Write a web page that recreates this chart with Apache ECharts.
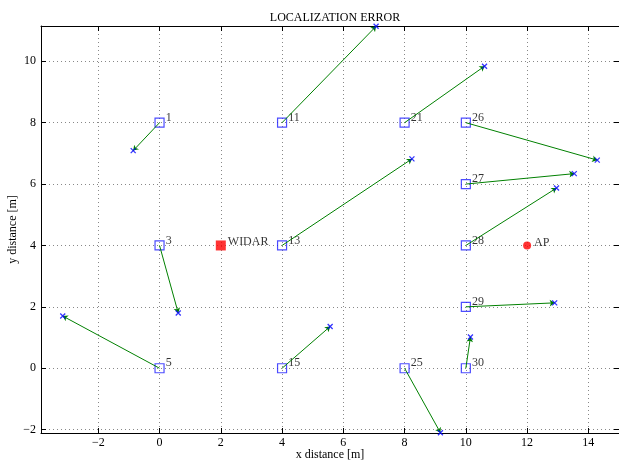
<!DOCTYPE html>
<html>
<head>
<meta charset="utf-8">
<script src="https://cdn.jsdelivr.net/npm/echarts@6/dist/echarts.min.js"></script>
<style>html,body{margin:0;padding:0;background:#fff;}#c{width:619px;height:464px;}</style>
</head>
<body>
<div id="c"></div>
<script>
const ids   = [1, 3, 5, 11, 13, 15, 21, 25, 26, 27, 28, 29, 30];
const trueX = [0, 0, 0, 4, 4, 4, 8, 8, 10, 10, 10, 10, 10];
const trueY = [8, 4, 0, 8, 4, 0, 8, 0, 8, 6, 4, 2, 0];
const estX  = [-0.86, 0.61, -3.16, 7.07, 8.24, 5.57, 10.61, 9.17, 14.29, 13.54, 12.96, 12.90, 10.15];
const estY  = [7.09, 1.80, 1.70, 11.14, 6.82, 1.36, 9.84, -2.10, 6.78, 6.34, 5.87, 2.13, 1.02];
const widar = [2, 4];
const ap = [12, 4];
const xTicks = [-2, 0, 2, 4, 6, 8, 10, 12, 14];
const yTicks = [-2, 0, 2, 4, 6, 8, 10];
const xRange = [-3.87, 15];
const yRange = [-2.11, 11.15];

const FONT = 'Liberation Serif';
const fmt = v => (v < 0 ? '\u2212' + Math.abs(v) : String(v));

const truePts = ids.map((id, i) => ({ value: [trueX[i], trueY[i]], name: String(id) }));
const estPts = ids.map((id, i) => [estX[i], estY[i]]);
const arrows = ids.map((id, i) => ({ coords: [[trueX[i], trueY[i]], [estX[i], estY[i]]] }));

function mkX(pos, showLabel) {
  return {
    type: 'value', position: pos, min: xRange[0], max: xRange[1],
    axisLine: { show: true, onZero: false, lineStyle: { color: '#000', width: 1 } },
    axisTick: { show: true, inside: true, length: 5, customValues: xTicks, lineStyle: { color: '#000' } },
    axisLabel: { show: showLabel, customValues: xTicks, formatter: fmt, fontFamily: FONT, fontSize: 12, color: '#000', margin: 4 },
    splitLine: { show: showLabel, lineStyle: { color: '#888', type: [1, 3], width: 1 } },
    name: showLabel ? 'x distance [m]' : '', nameLocation: 'middle', nameGap: 16, nameMoveOverlap: false,
    nameTextStyle: { fontFamily: FONT, fontSize: 12, color: '#000' }
  };
}
function mkY(pos, showLabel) {
  return {
    type: 'value', position: pos, min: yRange[0], max: yRange[1],
    axisLine: { show: true, onZero: false, lineStyle: { color: '#000', width: 1 } },
    axisTick: { show: true, inside: true, length: 5, customValues: yTicks, lineStyle: { color: '#000' } },
    axisLabel: { show: showLabel, customValues: yTicks, formatter: fmt, fontFamily: FONT, fontSize: 12, color: '#000', margin: 5 },
    splitLine: { show: showLabel, lineStyle: { color: '#888', type: [1, 3], width: 1 } },
    name: showLabel ? 'y distance [m]' : '', nameLocation: 'middle', nameGap: 22, nameMoveOverlap: false,
    nameTextStyle: { fontFamily: FONT, fontSize: 12, color: '#000' }
  };
}

const chart = echarts.init(document.getElementById('c'), null, { renderer: 'canvas' });
chart.setOption({
  animation: false,
  title: { text: 'LOCALIZATION ERROR', left: 330, textAlign: 'center', top: 7,
    textStyle: { fontFamily: FONT, fontSize: 12, fontWeight: 'normal', color: '#000' } },
  grid: { left: 41, top: 26, right: 0, bottom: 31, containLabel: false, outerBoundsMode: 'none' },
  xAxis: [mkX('bottom', true), mkX('top', false)],
  yAxis: [mkY('left', true), mkY('right', false)],
  series: [
    {
      type: 'scatter', xAxisIndex: 0, yAxisIndex: 0, data: truePts, symbol: 'rect', symbolSize: 9, z: 3,
      itemStyle: { color: 'rgba(0,0,0,0)', borderColor: '#1f1fff', borderWidth: 1.2 },
      label: { show: true, position: 'right', distance: 1, offset: [0, -5], formatter: p => p.name,
        fontFamily: FONT, fontSize: 12, color: '#000' }
    },
    {
      type: 'lines', coordinateSystem: 'cartesian2d', xAxisIndex: 0, yAxisIndex: 0, data: arrows, z: 4,
      symbol: ['none', 'arrow'], symbolSize: 5,
      lineStyle: { color: '#008000', width: 1, opacity: 1 }
    },
    {
      type: 'scatter', xAxisIndex: 0, yAxisIndex: 0, data: estPts, z: 5,
      symbol: 'path://M0,0L10,10M10,0L0,10', symbolSize: 5,
      itemStyle: { color: 'rgba(0,0,0,0)', borderColor: '#0000ff', borderWidth: 1.3 }
    },
    {
      type: 'scatter', xAxisIndex: 0, yAxisIndex: 0, data: [{ value: widar, name: 'WIDAR' }], symbol: 'rect', symbolSize: 10, z: 3,
      itemStyle: { color: '#ff0000' },
      label: { show: true, position: 'right', distance: 2, offset: [0, -4], formatter: p => p.name,
        fontFamily: FONT, fontSize: 12, color: '#000' }
    },
    {
      type: 'scatter', xAxisIndex: 0, yAxisIndex: 0, data: [{ value: ap, name: 'AP' }], symbol: 'circle', symbolSize: 8, z: 3,
      itemStyle: { color: '#ff0000' },
      label: { show: true, position: 'right', distance: 3, offset: [0, -3], formatter: p => p.name,
        fontFamily: FONT, fontSize: 12, color: '#000' }
    }
  ]
});
</script>
</body>
</html>
